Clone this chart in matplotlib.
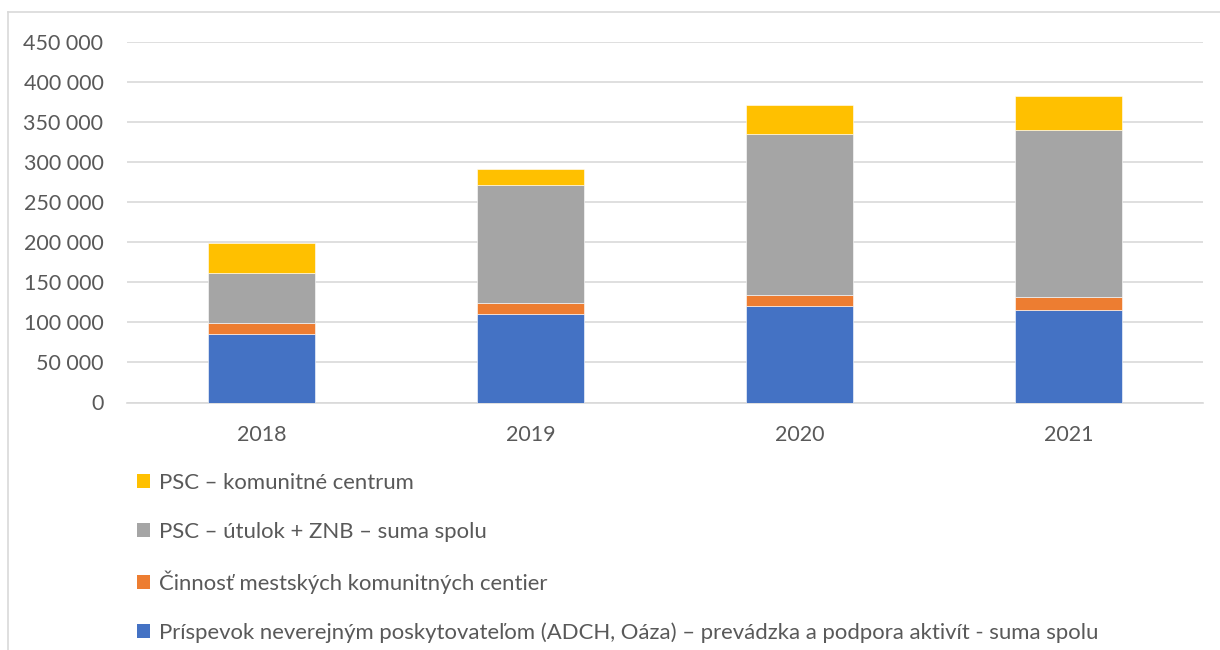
import matplotlib.pyplot as plt
from matplotlib.patches import Patch
from matplotlib.lines import Line2D
from matplotlib.ticker import FuncFormatter
import numpy as np

years = ['2018', '2019', '2020', '2021']
prispevok = [86000, 111000, 120000, 115000]
cinnost = [13500, 13500, 13700, 16200]
utulok = [62500, 147500, 202000, 209500]
komunitne = [37500, 19500, 36200, 42000]

labels = [
    'Príspevok neverejným poskytovateľom (ADCH, Oáza) – prevádzka a podpora aktivít - suma spolu',
    'Činnosť mestských komunitných centier',
    'PSC – útulok + ZNB – suma spolu',
    'PSC – komunitné centrum',
]
colors = ['#4472C4', '#ED7D31', '#A5A5A5', '#FFC000']
series = [prispevok, cinnost, utulok, komunitne]

plt.rcParams['font.family'] = ['Lato', 'DejaVu Sans']
txt = '#595959'

fig = plt.figure(figsize=(12.2, 6.5), dpi=100)
ax = fig.add_axes([127/1220, 1 - 402.5/650, (1203 - 127)/1220, (402.5 - 42)/650])

x = np.arange(len(years))
bottom = np.zeros(len(years))
for vals, col, lab in zip(series, colors, labels):
    ax.bar(x, vals, 0.4, bottom=bottom, color=col, label=lab,
           edgecolor='white', linewidth=0.4, zorder=3)
    bottom += np.array(vals)

ax.set_xlim(-0.5, len(years) - 0.5)
ax.set_ylim(0, 450000)
ax.set_yticks(range(0, 450001, 50000))
ax.yaxis.set_major_formatter(FuncFormatter(lambda v, p: f'{int(v):,}'.replace(',', ' ')))
ax.set_xticks(x)
ax.set_xticklabels(years)
ax.grid(axis='y', color='#D9D9D9', linewidth=1.2, zorder=0)
for s in ['top', 'right', 'left']:
    ax.spines[s].set_visible(False)
ax.spines['bottom'].set_color('#D9D9D9')
ax.spines['bottom'].set_linewidth(1.2)
ax.tick_params(axis='both', length=0, labelsize=15.5, colors=txt)
ax.tick_params(axis='y', pad=17)
ax.tick_params(axis='x', pad=16)

handles = [Patch(facecolor=c) for c in colors][::-1]
fig.legend(handles, labels[::-1], loc='upper left',
           bbox_to_anchor=(137/1220, 1 - 473/650), frameon=False,
           fontsize=15.9, labelcolor=txt, handlelength=0.6, handleheight=0.6,
           handletextpad=0.4, labelspacing=1.3, borderpad=0, borderaxespad=0)

# chart frame
fig.add_artist(Line2D([8/1220, 8/1220], [0, 1 - 12/650], color='#D9D9D9', lw=1.2))
fig.add_artist(Line2D([8/1220, 1], [1 - 12/650, 1 - 12/650], color='#D9D9D9', lw=1.2))

fig.savefig('out.png', dpi=100)
